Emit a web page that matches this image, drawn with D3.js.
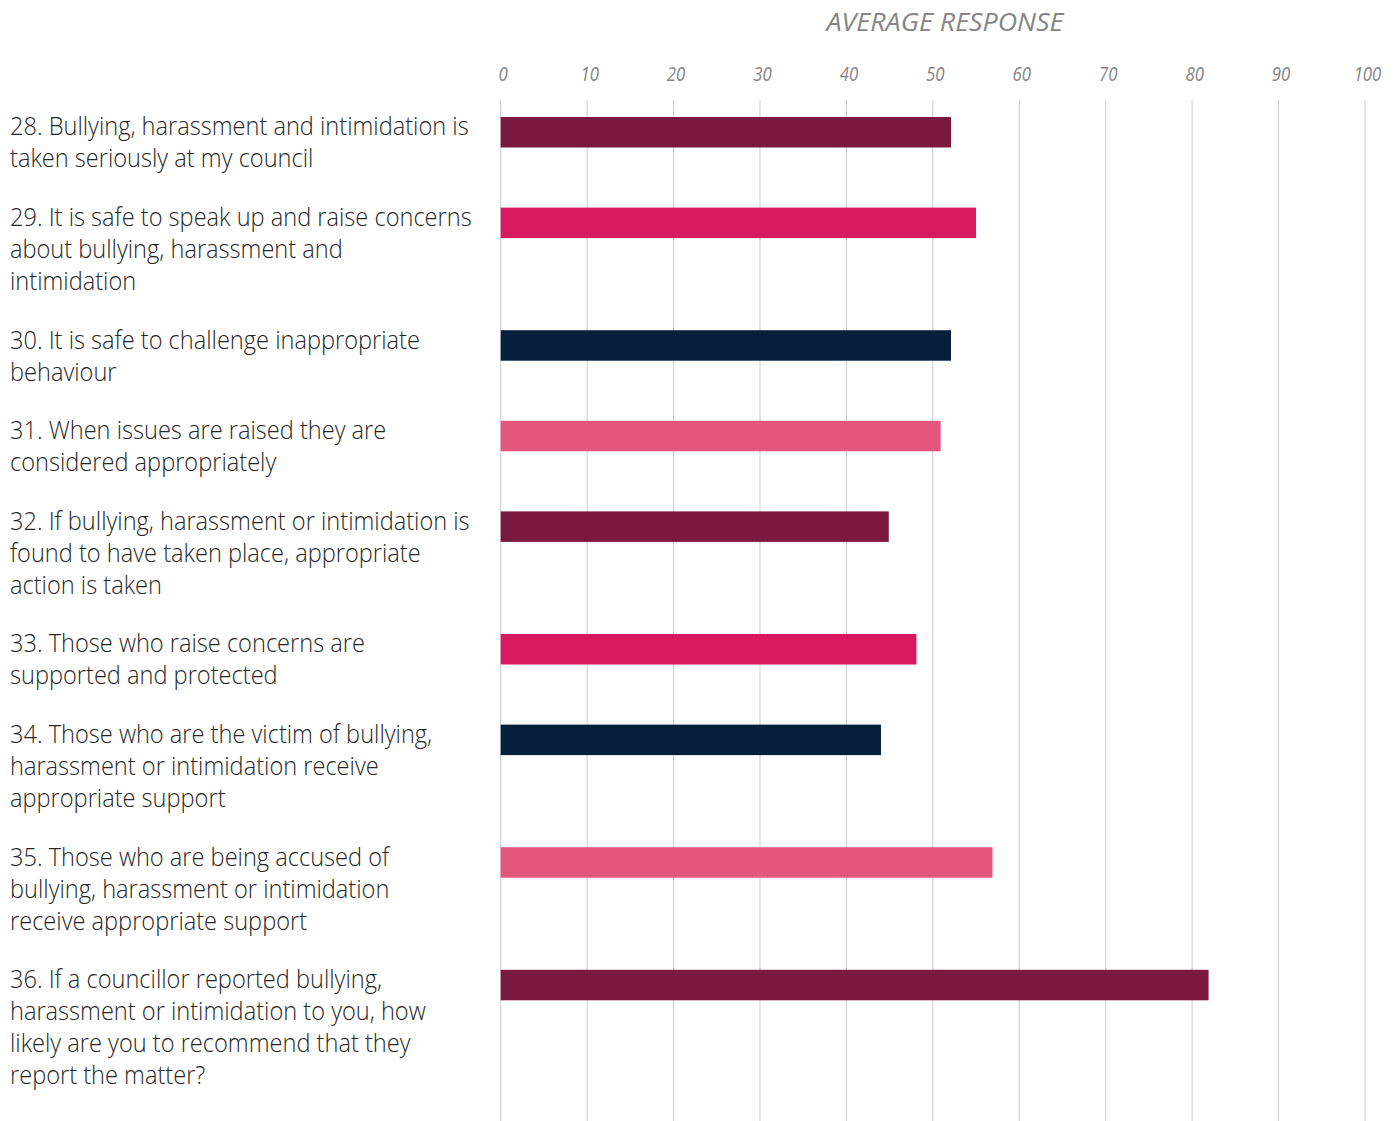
<!DOCTYPE html>
<html>
<head>
<meta charset="utf-8">
<script src="https://cdn.jsdelivr.net/npm/d3@7"></script>
<style>
html,body{margin:0;padding:0;background:#fff;}
svg{display:block;}
</style>
</head>
<body>
<svg id="chart" width="1398" height="1121"></svg>
<script>
// ---- data ----
const questions = ["28","29","30","31","32","33","34","35","36"];
const labelLines = [
  ["28. Bullying, harassment and intimidation is", "taken seriously at my council"],
  ["29. It is safe to speak up and raise concerns", "about bullying, harassment and", "intimidation"],
  ["30. It is safe to challenge inappropriate", "behaviour"],
  ["31. When issues are raised they are", "considered appropriately"],
  ["32. If bullying, harassment or intimidation is", "found to have taken place, appropriate", "action is taken"],
  ["33. Those who raise concerns are", "supported and protected"],
  ["34. Those who are the victim of bullying,", "harassment or intimidation receive", "appropriate support"],
  ["35. Those who are being accused of", "bullying, harassment or intimidation", "receive appropriate support"],
  ["36. If a councillor reported bullying,", "harassment or intimidation to you, how", "likely are you to recommend that they", "report the matter?"]
];
const values = [52.1, 55.0, 52.1, 50.9, 44.9, 48.1, 44.0, 56.9, 81.9];
const barColors = ["#7b183d", "#d71a60", "#06203b", "#e3567e", "#7b183d", "#d71a60", "#06203b", "#e3567e", "#7b183d"];
const xTicks = [0,10,20,30,40,50,60,70,80,90,100];
const axisTitle = "AVERAGE RESPONSE";

// ---- layout ----
const svg = d3.select("#chart");
const lineH = 32, gap = 26.6;
let acc = 0;
const starts = labelLines.map(l => { const s = acc; acc += l.length * lineH + gap; return s; });
const y = d3.scaleLinear().domain([0, 1]).range([135.5, 136.5]); // baseline of first label line
const x = d3.scaleLinear().domain([0, 100]).range([500.7, 1365]);

// gridlines
svg.append("g").selectAll("line").data(xTicks).join("line")
  .attr("x1", d => x(d)).attr("x2", d => x(d))
  .attr("y1", 100).attr("y2", 1121)
  .attr("stroke", "#c9cccf").attr("stroke-width", 1);

// top axis labels
const axis = d3.axisTop(x).tickValues(xTicks).tickSize(0).tickPadding(0).tickFormat(d3.format("d"));
const ag = svg.append("g").attr("transform", "translate(2,81)").call(axis);
ag.select(".domain").remove();
ag.selectAll("text")
  .attr("dy", 0)
  .attr("font-family", "'Open Sans', sans-serif")
  .attr("font-style", "italic")
  .attr("font-weight", 400)
  .attr("font-size", 20)
  .attr("fill", "#858585")
  .attr("transform", "scale(0.84,1)");

// axis title
const title = svg.append("text")
  .attr("x", 945).attr("y", 31)
  .attr("text-anchor", "middle")
  .attr("font-family", "'Open Sans', sans-serif")
  .attr("font-style", "italic")
  .attr("font-weight", 400)
  .attr("font-size", 25.5)
  .attr("fill", "#858585")
  .text(axisTitle);

// bars
svg.append("g").selectAll("rect").data(values).join("rect")
  .attr("x", x(0))
  .attr("y", (d, i) => y(starts[i]) - 18.5)
  .attr("width", d => x(d) - x(0))
  .attr("height", 30.5)
  .attr("fill", (d, i) => barColors[i]);

// labels
const lg = svg.append("g");
labelLines.forEach((lines, i) => {
  const t = lg.append("text")
    .attr("font-family", "'Open Sans', sans-serif")
    .attr("font-weight", 300)
    .attr("font-size", 25)
    .attr("fill", "#262626");
  lines.forEach((ln, j) => {
    t.append("tspan").attr("x", 10).attr("y", y(starts[i]) + j * lineH).text(ln);
  });
});

// compress text horizontally to mimic the condensed face
const ref = lg.select("text tspan").node();
const sx = 459 / ref.getComputedTextLength();
lg.selectAll("text").attr("transform", `translate(${10 - 10 * sx},0) scale(${sx},1)`);

const tsx = 237 / title.node().getComputedTextLength();
title.attr("transform", `translate(${945 - 945 * tsx},0) scale(${tsx},1)`);
</script>
</body>
</html>
